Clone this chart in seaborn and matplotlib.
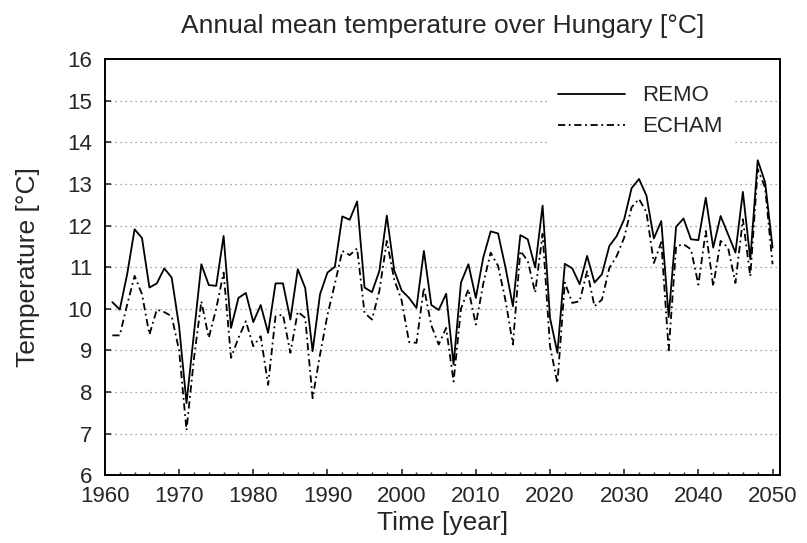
import numpy as np
import matplotlib
matplotlib.use('Agg')
import matplotlib.pyplot as plt
import pandas as pd
import seaborn as sns

# annual mean temperature over Hungary
years = list(range(1961, 2051))

remo = [10.16, 9.98, 10.83, 11.91, 11.70, 10.51, 10.61, 10.97, 10.75, 9.58,
        7.73, 9.40, 11.07, 10.57, 10.55, 11.75, 9.54, 10.26, 10.38, 9.68,
        10.09, 9.42, 10.61, 10.61, 9.74, 10.95, 10.50, 8.98, 10.35, 10.87,
        11.01, 12.22, 12.14, 12.58, 10.51, 10.40, 10.91, 12.24, 10.92, 10.44,
        10.26, 10.02, 11.39, 10.09, 9.97, 10.36, 8.66, 10.63, 11.07, 10.26,
        11.23, 11.86, 11.81, 10.99, 10.06, 11.77, 11.67, 10.99, 12.48, 9.78,
        8.94, 11.08, 10.97, 10.59, 11.27, 10.63, 10.83, 11.51, 11.75, 12.15,
        12.90, 13.12, 12.72, 11.69, 12.11, 9.80, 11.97, 12.17, 11.67, 11.65,
        12.67, 11.47, 12.23, 11.79, 11.35, 12.81, 11.19, 13.57, 13.04, 11.47]

echam = [9.36, 9.36, 10.10, 10.79, 10.35, 9.38, 9.98, 9.92, 9.82, 9.00,
         7.08, 8.80, 10.18, 9.30, 10.00, 10.87, 8.82, 9.30, 9.70, 9.10,
         9.34, 8.17, 9.82, 9.86, 8.94, 9.93, 9.78, 7.85, 8.90, 9.85,
         10.60, 11.39, 11.29, 11.45, 9.90, 9.74, 10.43, 11.63, 10.70, 10.20,
         9.20, 9.18, 10.51, 9.60, 9.14, 9.54, 8.25, 10.00, 10.47, 9.62,
         10.60, 11.35, 11.03, 10.20, 9.14, 11.39, 11.15, 10.39, 11.80, 9.10,
         8.21, 10.63, 10.14, 10.18, 10.90, 10.06, 10.22, 10.98, 11.27, 11.71,
         12.44, 12.64, 12.32, 11.10, 11.60, 9.00, 11.50, 11.55, 11.43, 10.58,
         11.87, 10.54, 11.63, 11.47, 10.62, 12.15, 10.78, 13.36, 12.91, 11.07]

df = pd.DataFrame({'year': years * 2,
                   'temp': remo + echam,
                   'model': ['REMO'] * len(years) + ['ECHAM'] * len(years)})

sns.set_style('ticks')
plt.rcParams['font.family'] = ['Liberation Sans', 'DejaVu Sans']

fig = plt.figure(figsize=(8.07, 5.43), dpi=100)
ax = fig.add_axes([0.130, 0.125, 0.8365, 0.766])

#plotting both model lines
sns.lineplot(data=df, x='year', y='temp', hue='model', style='model',
             palette={'REMO': 'black', 'ECHAM': 'black'},
             dashes={'REMO': '', 'ECHAM': (4, 2, 1, 2)},
             linewidth=1.3, ax=ax)

ax.set_xlim(1960, 2051)
ax.set_ylim(6, 16)
ax.set_xticks(np.arange(1960, 2051, 10))
ax.set_xticks(np.arange(1960, 2051, 2), minor=True)
ax.set_yticks(np.arange(6, 17, 1))
ax.yaxis.grid(True, linestyle=(0, (1, 3)), color='#888888', linewidth=0.9)
ax.set_axisbelow(True)

for s in ax.spines.values():
    s.set_linewidth(1.4)
    s.set_color('black')
ax.tick_params(axis='both', which='major', direction='in', length=4,
               width=1.2, labelsize=16)
ax.tick_params(axis='x', which='major', pad=8)
ax.tick_params(axis='y', which='major', pad=9)
ax.tick_params(axis='x', which='minor', direction='in', length=2, width=1.0)

ax.set_xlabel('Time [year]', fontsize=19, labelpad=3)
ax.set_ylabel('Temperature [°C]', fontsize=19, labelpad=20)
ax.set_title('Annual mean temperature over Hungary [°C]', fontsize=19, pad=19)

leg = ax.legend(loc='upper right', bbox_to_anchor=(0.945, 0.985), fontsize=16,
                handlelength=3.0, handletextpad=0.8, labelspacing=0.45,
                frameon=True, fancybox=False, framealpha=1)
leg.get_frame().set_edgecolor('white')
leg.get_frame().set_linewidth(0)

fig.savefig('out.png', dpi=100)
